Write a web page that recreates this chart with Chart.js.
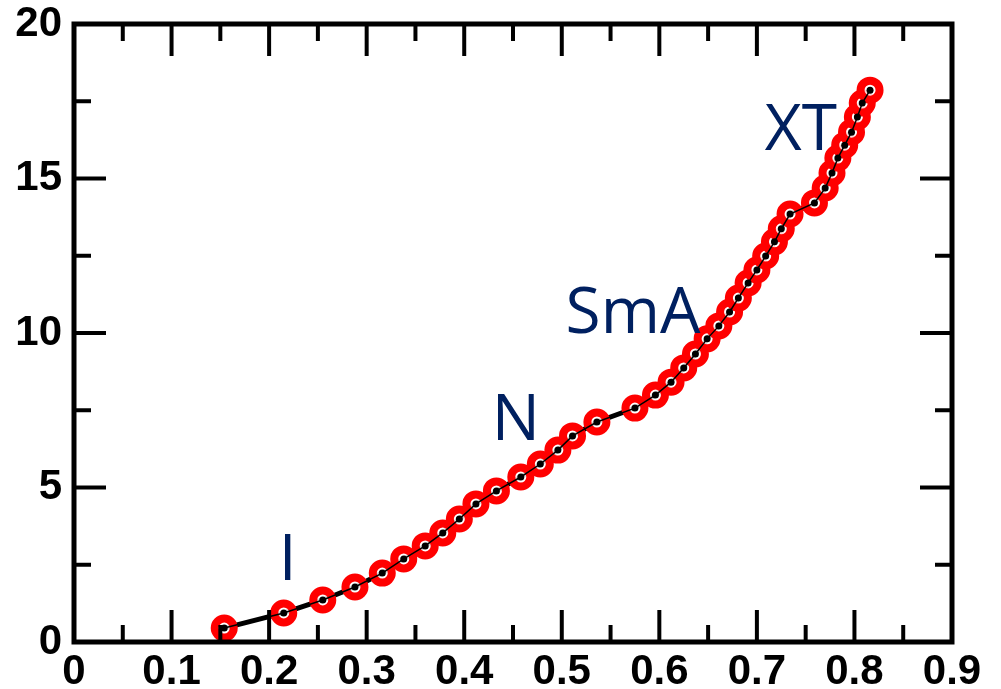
<!DOCTYPE html>
<html>
<head>
<meta charset="utf-8">
<script src="https://cdn.jsdelivr.net/npm/chart.js@4"></script>
<style>
  html, body { margin: 0; padding: 0; background: #fff; }
</style>
</head>
<body>
<canvas id="myChart" width="1001" height="689"></canvas>
<script>
// measured points along the phase curve
const xValues = [0.154, 0.215, 0.255, 0.288, 0.316, 0.338, 0.360, 0.378, 0.395, 0.412,
                 0.433, 0.458, 0.478, 0.496, 0.511, 0.536, 0.575, 0.596, 0.612, 0.625,
                 0.637, 0.649, 0.661, 0.672, 0.681, 0.691, 0.700, 0.709, 0.718, 0.725,
                 0.734, 0.759, 0.770, 0.777, 0.783, 0.790, 0.797, 0.803, 0.808, 0.816];
const yValues = [0.45, 0.94, 1.36, 1.78, 2.23, 2.69, 3.11, 3.53, 3.98, 4.47,
                 4.89, 5.34, 5.76, 6.21, 6.67, 7.12, 7.57, 7.99, 8.41, 8.87,
                 9.32, 9.81, 10.23, 10.68, 11.13, 11.62, 12.04, 12.49, 12.95, 13.37,
                 13.85, 14.21, 14.69, 15.18, 15.66, 16.08, 16.50, 16.99, 17.44, 17.86];

// phase names and where they sit (data units, text baseline)
const phaseNames = ['I', 'N', 'SmA', 'XT'];
const phaseX = [0.219, 0.453, 0.573, 0.745];
const phaseY = [2.0, 6.54, 10.0, 15.92];

const points = xValues.map((x, i) => ({ x: x, y: yValues[i] }));

const tickFont = { family: '"Liberation Sans", Arial, sans-serif', size: 42, weight: 'bold', lineHeight: 1 };

// box around the plot with inward ticks on all four sides
const frame = {
  id: 'frame',
  afterDraw(chart) {
    const { ctx, chartArea: a, scales } = chart;
    const xs = scales.x, ys = scales.y;
    ctx.save();
    ctx.strokeStyle = '#000';
    ctx.lineCap = 'butt';
    ctx.lineWidth = 4;
    const seg = (x1, y1, x2, y2) => { ctx.beginPath(); ctx.moveTo(x1, y1); ctx.lineTo(x2, y2); ctx.stroke(); };

    const xv = xs.ticks.map(t => t.value);
    xv.forEach((v, i) => {
      const px = xs.getPixelForValue(v);
      seg(px, a.bottom, px, a.bottom - 32);
      seg(px, a.top, px, a.top + 32);
      if (i < xv.length - 1) {
        const pm = xs.getPixelForValue((v + xv[i + 1]) / 2);
        seg(pm, a.bottom, pm, a.bottom - 17);
        seg(pm, a.top, pm, a.top + 17);
      }
    });

    const yv = ys.ticks.map(t => t.value);
    yv.forEach((v, i) => {
      const py = ys.getPixelForValue(v);
      seg(a.left, py, a.left + 32, py);
      seg(a.right, py, a.right - 32, py);
      if (i < yv.length - 1) {
        const pm = ys.getPixelForValue((v + yv[i + 1]) / 2);
        seg(a.left, pm, a.left + 17, pm);
        seg(a.right, pm, a.right - 17, pm);
      }
    });

    ctx.lineWidth = 5;
    ctx.strokeRect(a.left, a.top, a.right - a.left, a.bottom - a.top);
    ctx.restore();
  }
};

const phaseText = {
  id: 'phaseText',
  afterDatasetsDraw(chart) {
    const { ctx, scales } = chart;
    ctx.save();
    ctx.font = '64px "Open Sans", sans-serif';
    ctx.fillStyle = '#002060';
    ctx.textAlign = 'center';
    ctx.textBaseline = 'alphabetic';
    phaseNames.forEach((name, i) => {
      ctx.fillText(name, scales.x.getPixelForValue(phaseX[i]), scales.y.getPixelForValue(phaseY[i]));
    });
    ctx.restore();
  }
};

const ctx = document.getElementById('myChart').getContext('2d');

new Chart(ctx, {
  type: 'line',
  data: {
    datasets: [
      { // thin line with small markers on top
        data: points,
        borderColor: '#000',
        borderWidth: 1.5,
        pointRadius: 3.5,
        pointBackgroundColor: '#000',
        pointBorderWidth: 0,
        tension: 0,
        clip: false,
        order: 1
      },
      { // red open circles
        data: points,
        showLine: false,
        pointRadius: 9.5,
        pointBorderWidth: 8,
        pointBorderColor: '#ff0000',
        pointBackgroundColor: 'rgba(255,255,255,0.85)',
        clip: false,
        order: 2
      },
      { // heavy line underneath
        data: points,
        borderColor: '#000',
        borderWidth: 5,
        pointRadius: 0,
        tension: 0,
        clip: false,
        order: 3
      }
    ]
  },
  options: {
    responsive: false,
    animation: false,
    layout: { padding: { left: 0, top: 24, right: 49, bottom: 0 } },
    plugins: { legend: { display: false }, tooltip: { enabled: false } },
    scales: {
      x: {
        type: 'linear',
        min: 0,
        max: 0.9,
        ticks: { stepSize: 0.1, color: '#000', font: tickFont, padding: 9, maxRotation: 0 },
        grid: { display: false, drawTicks: false },
        border: { display: false },
        afterFit: s => { s.height = 47; s.paddingLeft = 0; s.paddingRight = 0; }
      },
      y: {
        min: 0,
        max: 20,
        ticks: { stepSize: 5, color: '#000', font: tickFont, padding: 12 },
        grid: { display: false, drawTicks: false },
        border: { display: false },
        afterFit: s => { s.width = 74; s.paddingTop = 0; s.paddingBottom = 0; }
      }
    }
  },
  plugins: [frame, phaseText]
});
</script>
</body>
</html>
